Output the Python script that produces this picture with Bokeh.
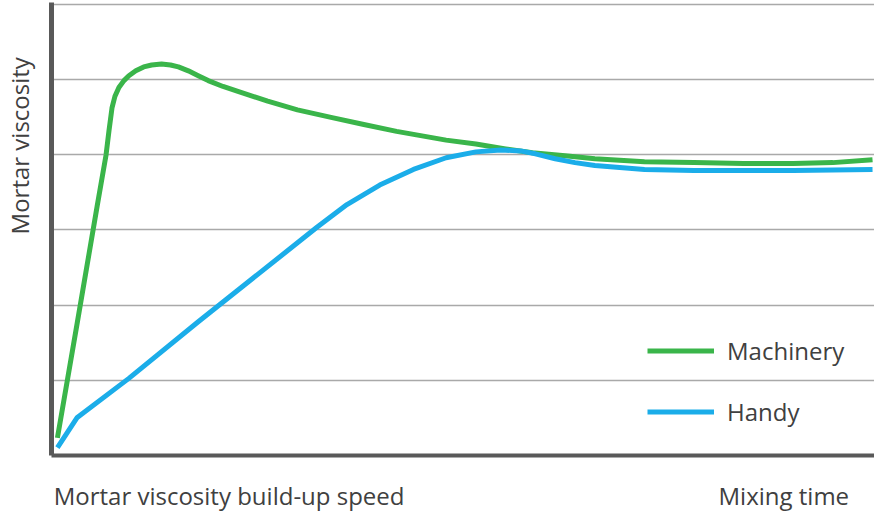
import math
from bokeh.plotting import figure
from bokeh.models import Range1d, FixedTicker
from bokeh.embed import file_html
from bokeh.resources import INLINE

# Values (x: mixing time 0..100, y: viscosity in grid units)
machinery_x = [0.72, 3.13, 5.54, 6.63, 6.99, 7.35, 7.71, 8.19, 8.80, 9.40, 10.24, 11.20,
               12.17, 13.37, 14.46, 15.42, 16.63, 17.83, 19.04, 20.84, 22.65, 26.27,
               29.88, 34.10, 37.95, 41.93, 47.95, 51.57, 55.18, 58.43, 62.41, 66.02,
               72.05, 78.07, 84.10, 90.12, 94.94, 99.76]
machinery_y = [0.234, 1.766, 3.312, 4.000, 4.325, 4.623, 4.779, 4.896, 4.987, 5.052, 5.117,
               5.169, 5.195, 5.208, 5.195, 5.169, 5.117, 5.052, 4.987, 4.909, 4.844, 4.714,
               4.597, 4.494, 4.403, 4.312, 4.195, 4.143, 4.078, 4.026, 3.987, 3.948,
               3.909, 3.896, 3.883, 3.883, 3.896, 3.935]

handy_x = [0.72, 3.13, 9.40, 17.83, 32.29, 35.90, 39.88, 43.98, 47.95, 51.57, 54.58,
           56.99, 58.80, 61.20, 63.61, 66.02, 72.05, 78.07, 90.12, 99.76]
handy_y = [0.104, 0.506, 1.026, 1.779, 3.039, 3.338, 3.597, 3.805, 3.961, 4.039, 4.065,
           4.052, 4.013, 3.948, 3.896, 3.857, 3.805, 3.792, 3.792, 3.805]

grid_ticks = [1, 2, 3, 4, 5, 6]

series_names = ["Machinery", "Handy"]
y_axis_title = "Mortar viscosity"
x_left_title = "Mortar viscosity build-up speed"
x_right_title = "Mixing time"

# where the axis texts sit along their axes (data units)
x_title_pos = [21.58, 88.98]
y_title_pos = 4.12

GREEN = "#3AB54A"
BLUE = "#1BADE9"
TEXT = "#404040"
AXIS = "#595959"
FONT = "Open Sans"

p = figure(width=874, height=514, x_range=Range1d(0, 100), y_range=Range1d(0, 6.026),
           output_backend="svg", toolbar_location=None,
           min_border_left=51, min_border_right=0, min_border_top=2, min_border_bottom=54)
p.outline_line_color = None
p.background_fill_color = "white"

for ax in (p.xaxis[0], p.yaxis[0]):
    ax.major_tick_out = 0
    ax.major_tick_in = 0
    ax.minor_tick_out = 0
    ax.minor_tick_in = 0
    ax.axis_line_color = AXIS
    ax.major_label_text_font = FONT
    ax.major_label_text_font_size = "24px"
    ax.major_label_text_color = TEXT

p.xaxis.ticker = FixedTicker(ticks=x_title_pos)
p.xaxis.major_label_overrides = {x_title_pos[0]: x_left_title, x_title_pos[1]: x_right_title}
p.xaxis.major_label_standoff = 23
p.xaxis.axis_line_width = 4

p.yaxis.ticker = FixedTicker(ticks=[y_title_pos])
p.yaxis.major_label_overrides = {y_title_pos: y_axis_title}
p.yaxis.major_label_orientation = "vertical"
p.yaxis.major_label_standoff = 15
p.yaxis.axis_line_width = 5

p.xgrid.visible = False
p.ygrid.ticker = FixedTicker(ticks=grid_ticks)
p.ygrid.grid_line_color = "#A9A9A9"
p.ygrid.grid_line_width = 1.6

p.line(machinery_x, machinery_y, line_color=GREEN, line_width=5, line_join="round",
       legend_label=series_names[0])
p.line(handy_x, handy_y, line_color=BLUE, line_width=5, line_join="round",
       legend_label=series_names[1])

lg = p.legend[0]
lg.location = (596, 27)
lg.border_line_color = None
lg.background_fill_alpha = 0
lg.padding = 0
lg.margin = 0
lg.glyph_width = 67
lg.glyph_height = 33
lg.label_height = 33
lg.spacing = 28
lg.label_standoff = 13
lg.label_text_font = FONT
lg.label_text_font_size = "24px"
lg.label_text_color = TEXT

open("out.html", "w").write(file_html(p, INLINE))
